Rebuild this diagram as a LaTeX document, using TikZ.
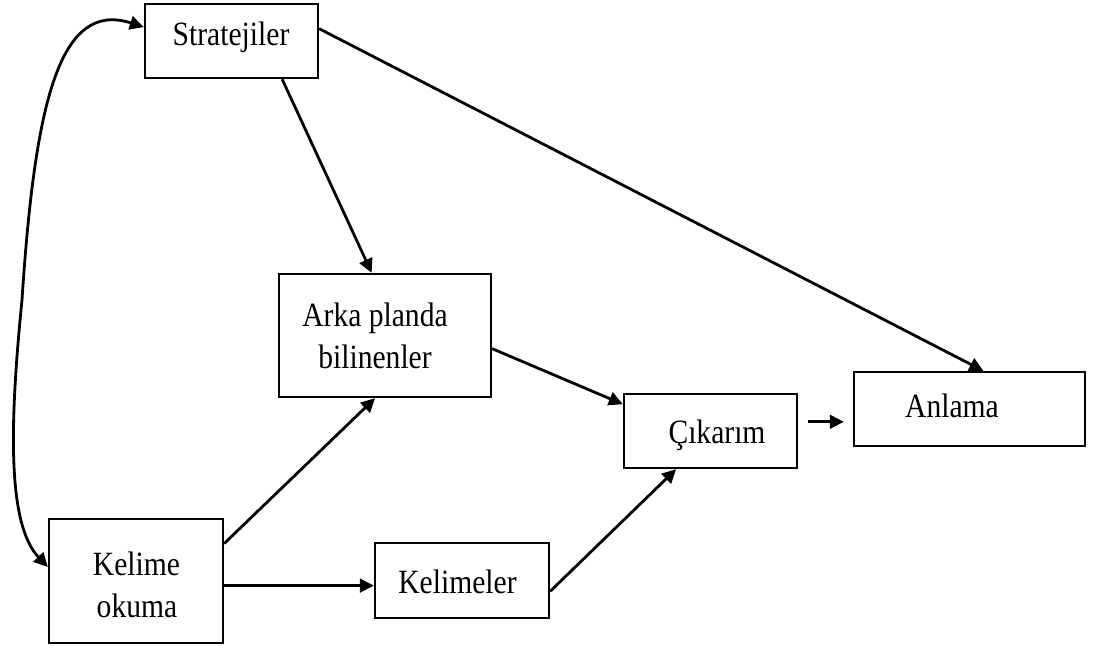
\documentclass[tikz,border=0pt]{standalone}
\usepackage{fontspec}
\setmainfont{Liberation Serif}[FakeStretch=0.87]
\usetikzlibrary{arrows.meta}
\tikzset{
  box/.style={draw=black, line width=1.15pt, rectangle, inner sep=0pt, fill=white},
  txt/.style={anchor=base, inner sep=0pt, font=\fontsize{17}{21}\selectfont},
  tip/.tip={Triangle[length=7pt,width=6.8pt]},
  arr/.style={draw=black, line width=1.4pt, -tip},
}
\begin{document}
\begin{tikzpicture}[x=0.5pt,y=-0.5pt]
\useasboundingbox[fill=white] (0,0) rectangle (1096,646);
% boxes
\node[box, minimum width=86.5pt, minimum height=37pt] (st) at (231.5,41) {};
\node[box, minimum width=87pt, minimum height=62pt] (ko) at (136,581) {};
\node[box, minimum width=106pt, minimum height=61.5pt] (ar) at (385,335.5) {};
\node[box, minimum width=86.5pt, minimum height=37pt] (ci) at (710.5,431) {};
\node[box, minimum width=115.5pt, minimum height=37pt] (an) at (969.5,409) {};
\node[box, minimum width=87pt, minimum height=37.5pt] (kl) at (462,580.5) {};
% texts
\node[txt] (tst) at (231,46) {Stratejiler};
\node[txt] (tko1) at (136.5,575) {Kelime};
\node[txt] (tko2) at (137,617) {okuma};
\node[txt] (tar1) at (375,327) {Arka planda};
\node[txt] (tar2) at (375,368) {bilinenler};
\node[txt] (tci) at (717,443) {Çıkarım};
\node[txt] (tan) at (952,417) {Anlama};
\node[txt] (tkl) at (457.5,593) {Kelimeler};
% connectors
\draw[arr, tip-tip]
  (st.171) .. controls (60,0) and (35,100) .. (22,300)
  .. controls (9,430) and (8,525) .. (ko.171);
\draw[arr] (st.-37) -- (ar.102);
\draw[arr] (st.8) -- (an.70);
\draw[arr] (ar.-7) -- (ci.163);
\draw[arr, shorten <=5pt, shorten >=4.5pt] (ci.6) -- (ci.6 -| an.west);
\draw[arr] (ko.23.6) -- (ar.-99);
\draw[arr] (ko.-3) -- (ko.-3 -| kl.west);
\draw[arr] (kl.-7.5) -- (ci.-132);
\end{tikzpicture}
\end{document}
